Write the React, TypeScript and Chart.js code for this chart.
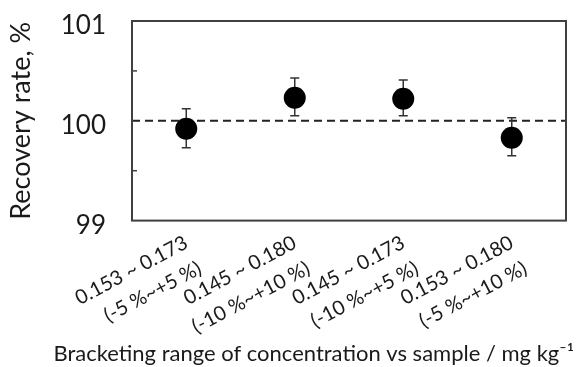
import React, { useEffect, useRef } from "react";
import { Chart, registerables } from "chart.js";

Chart.register(...registerables);

const rangeLabels = ["0.153 ~ 0.173", "0.145 ~ 0.180", "0.145 ~ 0.173", "0.153 ~ 0.180"];
const percentLabels = ["(-5 %~+5 %)", "(-10 %~+10 %)", "(-10 %~+5 %)", "(-5 %~+10 %)"];
const recovery = [99.92, 100.23, 100.22, 99.83];
const errUpper = [100.12, 100.43, 100.41, 100.03];
const errLower = [99.73, 100.05, 100.05, 99.65];
const referenceLine = 100;
const yMin = 99;
const yMax = 101;
const minorTicks = [99.5, 100.5];

const FONT = "Lato, 'Open Sans', sans-serif";

const decorPlugin = {
  id: "decor",
  beforeDatasetsDraw(chart: any) {
    const { ctx, chartArea, scales } = chart;
    const y = scales.y;
    const x = scales.x;
    ctx.save();
    const yr = y.getPixelForValue(referenceLine);
    ctx.strokeStyle = "#222";
    ctx.lineWidth = 2;
    ctx.setLineDash([8, 5]);
    ctx.beginPath();
    ctx.moveTo(chartArea.left, yr);
    ctx.lineTo(chartArea.right, yr);
    ctx.stroke();
    ctx.setLineDash([]);
    ctx.strokeStyle = "#404040";
    ctx.lineWidth = 1.5;
    minorTicks.forEach((v) => {
      const py = y.getPixelForValue(v);
      ctx.beginPath();
      ctx.moveTo(chartArea.left, py);
      ctx.lineTo(chartArea.left + 5, py);
      ctx.stroke();
    });
    ctx.strokeStyle = "#333";
    ctx.lineWidth = 1.5;
    recovery.forEach((_, i) => {
      const px = x.getPixelForValue(i);
      const pt = y.getPixelForValue(errUpper[i]);
      const pb = y.getPixelForValue(errLower[i]);
      ctx.beginPath();
      ctx.moveTo(px, pt);
      ctx.lineTo(px, pb);
      ctx.moveTo(px - 4.5, pt);
      ctx.lineTo(px + 4.5, pt);
      ctx.moveTo(px - 4.5, pb);
      ctx.lineTo(px + 4.5, pb);
      ctx.stroke();
    });
    ctx.strokeStyle = "#404040";
    ctx.lineWidth = 2;
    ctx.strokeRect(chartArea.left, chartArea.top, chartArea.right - chartArea.left, chartArea.bottom - chartArea.top);
    ctx.restore();
  },
};

export default function App() {
  const ref = useRef<HTMLCanvasElement>(null);
  useEffect(() => {
    document.body.style.margin = "0";
    const chart = new Chart(ref.current as HTMLCanvasElement, {
      type: "line",
      data: {
        labels: rangeLabels.map((r, i) => [r, percentLabels[i]]),
        datasets: [
          {
            data: recovery,
            showLine: false,
            pointRadius: 11,
            pointHoverRadius: 11,
            pointBackgroundColor: "#000",
            pointBorderColor: "#000",
            pointBorderWidth: 0,
          },
        ],
      },
      plugins: [decorPlugin],
      options: {
        animation: false,
        responsive: false,
        layout: { padding: { top: 21, right: 3, left: 0, bottom: 0 } },
        plugins: {
          legend: { display: false },
          tooltip: { enabled: false },
          title: {
            display: true,
            position: "bottom",
            align: "end",
            text: "Bracketing range of concentration vs sample / mg kg⁻¹",
            color: "#1a1a1a",
            font: { family: FONT, size: 22, weight: "normal" },
            padding: { top: 0, bottom: 0 },
          },
        },
        scales: {
          x: {
            type: "category",
            offset: true,
            grid: { display: false, drawTicks: false },
            border: { display: false },
            ticks: {
              color: "#1a1a1a",
              font: { family: FONT, size: 20, lineHeight: 1.45 },
              minRotation: 28,
              maxRotation: 28,
              padding: 8,
              autoSkip: false,
            },
            afterFit(scale: any) {
              scale.height = 120;
              scale.paddingLeft = 0;
              scale.paddingRight = 0;
            },
          },
          y: {
            min: yMin,
            max: yMax,
            grid: { display: false, drawTicks: false },
            border: { display: false },
            ticks: {
              stepSize: 1,
              color: "#1a1a1a",
              font: { family: FONT, size: 26 },
              padding: 26,
              labelOffset: 5,
            },
            title: {
              display: true,
              text: "Recovery rate, %",
              color: "#1a1a1a",
              font: { family: FONT, size: 27 },
              padding: { top: 5, bottom: 0 },
            },
            afterFit(scale: any) {
              scale.width = 132;
              scale.paddingTop = 0;
              scale.paddingBottom = 0;
            },
          },
        },
      },
    });
    return () => chart.destroy();
  }, []);
  return <canvas ref={ref} width={577} height={367} style={{ display: "block" }} />;
}
